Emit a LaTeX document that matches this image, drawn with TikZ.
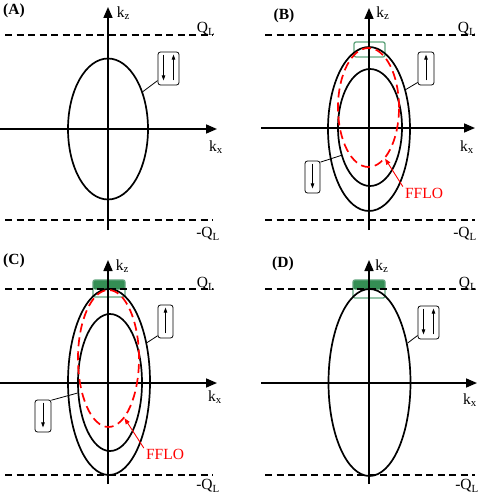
\documentclass[tikz,border=0pt]{standalone}
\usepackage{fontspec}
\setmainfont{Liberation Serif}
\usetikzlibrary{shapes.geometric,arrows.meta,positioning}
\definecolor{pocketline}{RGB}{96,164,124}
\definecolor{pocketfill}{RGB}{52,142,84}
\tikzset{
  axis/.style     ={line width=1.6pt, -{Triangle[length=11pt,width=9pt]}},
  qline/.style    ={line width=1.1pt, dash pattern=on 7pt off 4.5pt},
  fermi/.style    ={draw, ellipse, line width=1.7pt, inner sep=0pt},
  fflo/.style     ={draw=red, ellipse, line width=1.7pt, dash pattern=on 9pt off 5pt, inner sep=0pt},
  spinbox/.style  ={draw, rounded corners=2.5pt, line width=0.8pt, inner sep=0pt},
  spinarr/.style  ={line width=0.8pt, -{Triangle[length=5pt,width=3.5pt]}},
  leader/.style   ={line width=0.8pt},
  ffloarr/.style  ={draw=red, line width=0.9pt, -{Triangle[length=6pt,width=4.5pt]}},
  pocket/.style   ={draw=pocketline, rounded corners=2pt, line width=1.3pt, inner sep=0pt},
  lbl/.style      ={inner sep=0pt, font=\fontsize{15.5}{18}\selectfont},
  tag/.style      ={inner sep=0pt, font=\fontsize{15.5}{18}\selectfont\bfseries},
}

\begin{document}
\begin{tikzpicture}[x=1pt, y=-1pt]
  \useasboundingbox (0,0) rectangle (485,495);

  % ---------------- panel (A)
  \coordinate (xlA) at (0,129);   \coordinate (xrA) at (217,129);
  \coordinate (zbA) at (108,230); \coordinate (ztA) at (108,7);
  \coordinate (qlA) at (5,35);    \coordinate (qrA) at (213,35);
  \coordinate (mlA) at (5,220);   \coordinate (mrA) at (213,220);
  \draw[qline] (qlA) -- (qrA);
  \draw[qline] (mlA) -- (mrA);
  \draw[axis] (xlA) -- (xrA);
  \draw[axis] (zbA) -- (ztA);
  \node[fermi, minimum width=80pt, minimum height=141pt] (fsA) at (108,129) {};
  \node[spinbox, minimum width=21pt, minimum height=33pt] (spinA) at (168.5,68.5) {};
  \draw[spinarr] ([xshift=-5pt,yshift=-3pt]spinA.north) -- ([xshift=-5pt,yshift=5pt]spinA.south);
  \draw[spinarr] ([xshift=5pt,yshift=5pt]spinA.south) -- ([xshift=5pt,yshift=-3pt]spinA.north);
  \draw[leader] (spinA.228) -- (fsA.47);
  \node[tag] (tagA) at (14,11) {(A)};
  \node[lbl] (kzA) at (123.5,13) {k\textsubscript{z}};
  \node[lbl] (kxA) at (216,147) {k\textsubscript{x}};
  \node[lbl] (qA)  at (206,29) {Q\textsubscript{L}};
  \node[lbl] (mqA) at (208,234) {-Q\textsubscript{L}};

  % ---------------- panel (B)
  \coordinate (xlB) at (261,128); \coordinate (xrB) at (475,128);
  \coordinate (zbB) at (369,230); \coordinate (ztB) at (369,8);
  \coordinate (qlB) at (265,35);  \coordinate (qrB) at (475,35);
  \coordinate (mlB) at (265,220); \coordinate (mrB) at (475,220);
  \node[pocket, minimum width=31pt, minimum height=15pt] (pkB) at (369.5,49.5) {};
  \draw[qline] (qlB) -- (qrB);
  \draw[qline] (mlB) -- (mrB);
  \draw[axis] (xlB) -- (xrB);
  \draw[axis] (zbB) -- (ztB);
  \node[fermi, minimum width=82pt, minimum height=164pt] (upB) at (369,129) {};
  \node[fermi, minimum width=64pt, minimum height=117pt] (dnB) at (370,127.5) {};
  \node[fflo, minimum width=61pt, minimum height=119pt] (redB) at (368.5,107.5) {};
  \node[spinbox, minimum width=16pt, minimum height=33pt] (spinuB) at (426,68.5) {};
  \draw[spinarr] ([yshift=5pt]spinuB.south) -- ([yshift=-3pt]spinuB.north);
  \draw[leader] (spinuB.239) -- (upB.47);
  \node[spinbox, minimum width=15pt, minimum height=32pt] (spindB) at (312.5,177) {};
  \draw[spinarr] ([yshift=-3pt]spindB.north) -- ([yshift=5pt]spindB.south);
  \draw[leader] (spindB.62) -- (dnB.224);
  \node[lbl, text=red] (flB) at (424,193) {FFLO};
  \draw[ffloarr] ([xshift=-2pt,yshift=1pt]flB.north west) -- (redB.-72);
  \node[tag] (tagB) at (284,16) {(B)};
  \node[lbl] (kzB) at (383,13) {k\textsubscript{z}};
  \node[lbl] (kxB) at (467,147) {k\textsubscript{x}};
  \node[lbl] (qB)  at (467,29) {Q\textsubscript{L}};
  \node[lbl] (mqB) at (465,234) {-Q\textsubscript{L}};

  % ---------------- panel (C)
  \coordinate (xlC) at (0,383);   \coordinate (xrC) at (217,383);
  \coordinate (zbC) at (108,484); \coordinate (ztC) at (108,260);
  \coordinate (qlC) at (5,289);   \coordinate (qrC) at (213,289);
  \coordinate (mlC) at (5,475);   \coordinate (mrC) at (213,475);
  \fill[pocketfill, rounded corners=2pt] (93,280) rectangle (125,289.5);
  \node[pocket, minimum width=32pt, minimum height=17pt] (pkC) at (109,288.5) {};
  \draw[qline] (qlC) -- (qrC);
  \draw[qline] (mlC) -- (mrC);
  \draw[axis] (xlC) -- (xrC);
  \draw[axis] (zbC) -- (ztC);
  \node[fermi, minimum width=82pt, minimum height=186pt] (upC) at (109,382) {};
  \node[fermi, minimum width=64pt, minimum height=137pt] (dnC) at (110,382.5) {};
  \node[fflo, minimum width=61pt, minimum height=137pt] (redC) at (108.5,358.5) {};
  \node[spinbox, minimum width=15pt, minimum height=33pt] (spinuC) at (165.5,321.5) {};
  \draw[spinarr] ([yshift=5pt]spinuC.south) -- ([yshift=-3pt]spinuC.north);
  \draw[leader] (spinuC.241) -- (upC.46.5);
  \node[spinbox, minimum width=16pt, minimum height=32pt] (spindC) at (43,416) {};
  \draw[spinarr] ([yshift=-3pt]spindC.north) -- ([yshift=5pt]spindC.south);
  \draw[leader] (spindC.62) -- (dnC.198);
  \node[lbl, text=red] (flC) at (165,454.5) {FFLO};
  \draw[ffloarr] ([xshift=-2pt,yshift=1pt]flC.north west) -- (redC.-75);
  \node[tag] (tagC) at (14,261) {(C)};
  \node[lbl] (kzC) at (122.5,266) {k\textsubscript{z}};
  \node[lbl] (kxC) at (215,397) {k\textsubscript{x}};
  \node[lbl] (qC)  at (206,284) {Q\textsubscript{L}};
  \node[lbl] (mqC) at (208,486) {-Q\textsubscript{L}};

  % ---------------- panel (D)
  \coordinate (xlD) at (261,383); \coordinate (xrD) at (477,383);
  \coordinate (zbD) at (369,484); \coordinate (ztD) at (369,260);
  \coordinate (qlD) at (265,289); \coordinate (qrD) at (475,289);
  \coordinate (mlD) at (265,475); \coordinate (mrD) at (475,475);
  \fill[pocketfill, rounded corners=2pt] (353,280) rectangle (385,289.5);
  \node[pocket, minimum width=32pt, minimum height=18pt] (pkD) at (369,289) {};
  \draw[qline] (qlD) -- (qrD);
  \draw[qline] (mlD) -- (mrD);
  \draw[axis] (xlD) -- (xrD);
  \draw[axis] (zbD) -- (ztD);
  \node[fermi, minimum width=82pt, minimum height=187pt] (fsD) at (369.5,382.5) {};
  \node[spinbox, minimum width=21pt, minimum height=33pt] (spinD) at (428.5,322.5) {};
  \draw[spinarr] ([xshift=-5pt,yshift=-3pt]spinD.north) -- ([xshift=-5pt,yshift=5pt]spinD.south);
  \draw[spinarr] ([xshift=5pt,yshift=5pt]spinD.south) -- ([xshift=5pt,yshift=-3pt]spinD.north);
  \draw[leader] (spinD.230) -- (fsD.46.5);
  \node[tag] (tagD) at (283,264) {(D)};
  \node[lbl] (kzD) at (382,266) {k\textsubscript{z}};
  \node[lbl] (kxD) at (470,400) {k\textsubscript{x}};
  \node[lbl] (qD)  at (468,284) {Q\textsubscript{L}};
  \node[lbl] (mqD) at (467,486) {-Q\textsubscript{L}};
\end{tikzpicture}
\end{document}
